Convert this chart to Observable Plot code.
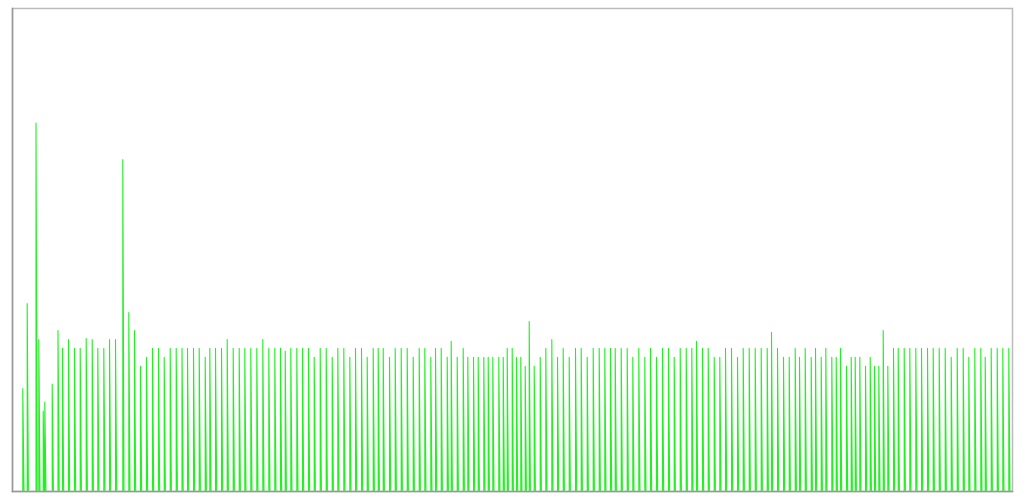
<!DOCTYPE html>
<html>
<head>
<meta charset="utf-8">
<script src="https://cdn.jsdelivr.net/npm/d3@7"></script>
<script src="https://cdn.jsdelivr.net/npm/@observablehq/plot@0.6"></script>
<style>
  html, body { margin: 0; padding: 0; background: #fff; }
  #chart svg { display: block; }
</style>
</head>
<body>
<div id="chart"></div>
<script>
// Spike times (x) and peak values (y)
const times = [
  22.3, 26.7, 35.5, 38.3, 42.7, 44.3, 51.7, 57.5, 62, 68, 74, 79.7, 85.7, 91.7, 97.3, 103.3, 109, 115,
  122.3, 128.3, 134, 140, 146, 152, 158, 163.7, 169.7, 175.7, 181.5, 187, 193, 198.7, 204.7, 209.3,
  215, 221, 226.7, 232.7, 238.7, 244.3, 250.3, 256.3, 262.3, 268.3, 274.3, 280, 284.7, 290.3, 296.3,
  302, 308, 313.7, 319.7, 325.7, 331.7, 337.3, 343.3, 349.3, 355, 361, 366.7, 372.7, 377.7,
  382.7, 389, 394.7, 400.7, 406.7, 412.7, 418.7, 424.3, 430.3, 435, 440.7, 446.7, 450.7, 456.7,
  462.7, 467.3, 473, 477.7, 483.3, 487.7, 492.3, 498.3, 502.7, 506.7, 511.7, 516, 520.3, 524.7,
  528.7, 533.7, 539.7, 545.3, 551.3, 557, 562.7, 568.7, 575, 580.7, 586.7, 592.7, 598.7, 604.3,
  610, 614.7, 620.7, 626.7, 632.3, 638.3, 644.3, 650, 656, 662, 668, 673.7, 679.7, 685.7, 691.3,
  696, 702, 707.7, 713.7, 719.3, 725, 731, 737, 742.7, 748.7, 754.7, 760.7, 766.7, 771, 777, 783,
  788.7, 794.7, 799, 804.7, 810.7, 815, 820.7, 825.3, 831.3, 835.7, 840, 846, 850.7, 854.7, 859.3,
  865, 869.7, 874, 878.3, 882.7, 887.3, 893, 897.7, 903.7, 909.3, 915.3, 921, 927, 932.7, 938.7,
  944.7, 950.7, 956.7, 962.7, 968.3, 974.3, 980.3, 984.7, 990.7, 996.7, 1002.3, 1008.3
];
const peaks = [
  11.5, 21, 41.2, 17, 9, 10, 12, 18, 16, 17, 16, 16, 17.1, 17, 16, 16, 17, 17,
  37.1, 20, 18, 14, 15, 16, 16, 15, 16, 16, 16, 16, 16, 16, 15, 16,
  16, 16, 17, 16, 16, 16, 16, 16, 17, 16, 16, 16, 15.7, 16, 16,
  16, 16, 15, 16, 16, 15, 16, 16, 15, 16, 16, 15, 16, 16,
  16, 15, 16, 16, 16, 15, 16, 16, 15, 16, 16, 15, 16.8, 15,
  16, 15, 15, 15, 15, 15, 15, 15, 15, 16, 16, 15, 15, 14,
  19, 14, 15, 16, 17, 15, 16, 15, 16, 16, 15, 16, 16, 16,
  16, 16, 16, 16, 15, 16, 15, 16, 15, 16, 16, 15, 16, 16, 16,
  16.8, 16, 16, 15, 15, 16, 16, 15, 16, 16, 16, 16, 16, 17.8, 16, 15,
  15, 16, 15, 16, 15, 16, 15, 16, 15, 15, 16, 14, 15, 15, 15,
  14, 15, 14, 14, 18, 14, 16, 16, 16, 16, 16, 16, 16, 16, 16,
  16, 15, 16, 16, 15, 16, 16, 15, 16, 16, 16, 16
];
const xDomain = [12, 1012];
const yDomain = [0, 54];

// Each spike: rise from zero to the peak, then fall back to zero
const series = [];
times.forEach((t, i) => {
  series.push({t: t, v: 0});
  series.push({t: t, v: peaks[i]});
  series.push({t: t + 1.2, v: 0});
});

const chart = Plot.plot({
  width: 1024,
  height: 500,
  marginLeft: 12,
  marginRight: 12,
  marginTop: 8,
  marginBottom: 9,
  x: {domain: xDomain, axis: null},
  y: {domain: yDomain, axis: null},
  style: {background: "#fff"},
  marks: [
    Plot.line(series, {x: "t", y: "v", stroke: "#22f022", strokeWidth: 1.1}),
    Plot.frame({stroke: "#bbb", strokeWidth: 1.5}),
    Plot.frame({anchor: "left", stroke: "#999", strokeWidth: 1.5}),
    Plot.frame({anchor: "bottom", stroke: "#999", strokeWidth: 1.5})
  ]
});
document.getElementById("chart").appendChild(chart);
</script>
</body>
</html>
